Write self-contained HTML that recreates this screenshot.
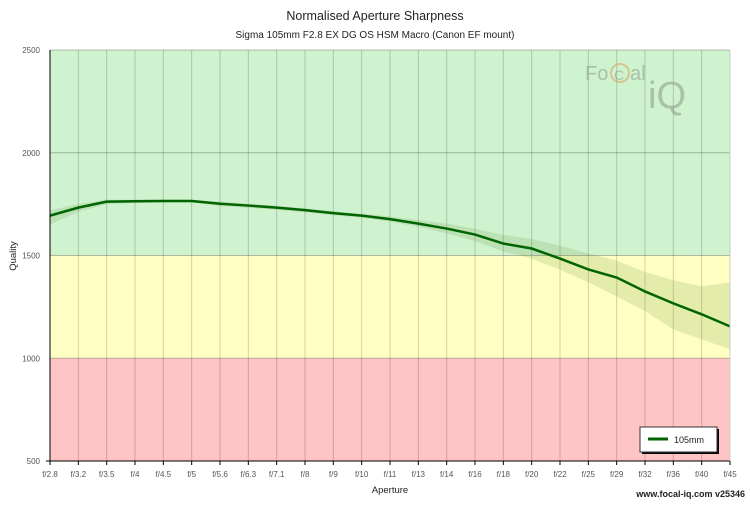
<!DOCTYPE html>
<html><head><meta charset="utf-8"><style>
body{margin:0;background:#fff;font-family:"Liberation Sans",sans-serif}
svg text{font-family:"Liberation Sans",sans-serif}
</style></head><body>
<svg id="c" width="750" height="500">
<text x="375" y="20" font-size="12.5" text-anchor="middle" fill="#222">Normalised Aperture Sharpness</text>
<text x="375" y="38" font-size="10" text-anchor="middle" fill="#222">Sigma 105mm F2.8 EX DG OS HSM Macro (Canon EF mount)</text>
<g id="bg"></g><g id="grid"></g><g id="marks"></g><g id="axes"></g>
<g opacity="0.55">
<text x="585" y="80" font-size="20" fill="#8a9a8a">Fo</text>
<circle cx="620" cy="73" r="9" fill="none" stroke="#d9a35a" stroke-width="2"/>
<text x="614" y="80" font-size="14" fill="#8a9a8a">C</text>
<text x="630" y="80" font-size="20" fill="#8a9a8a">al</text>
<text x="648" y="108" font-size="38" fill="#8a9a8a">iQ</text>
</g>
<text x="390" y="493" font-size="9.5" text-anchor="middle" fill="#222">Aperture</text>
<text x="16" y="256" font-size="9.5" text-anchor="middle" fill="#222" transform="rotate(-90 16 256)">Quality</text>
<text x="745" y="497" font-size="9" text-anchor="end" fill="#222" font-weight="bold">www.focal-iq.com  v25346</text>
<g>
<rect x="642" y="429" width="77" height="25" fill="#000"/>
<rect x="640" y="427" width="77" height="25" fill="#fff" stroke="#333"/>
<line x1="648" y1="439" x2="668" y2="439" stroke="#006400" stroke-width="3"/>
<text x="674" y="443" font-size="9" fill="#222">105mm</text>
</g>
</svg>
<script>
const categories=["f/2.8","f/3.2","f/3.5","f/4","f/4.5","f/5","f/5.6","f/6.3","f/7.1","f/8","f/9","f/10","f/11","f/13","f/14","f/16","f/18","f/20","f/22","f/25","f/29","f/32","f/36","f/40","f/45"];
const values=[1694,1733,1762,1764,1765,1765,1752,1743,1733,1721,1706,1694,1677,1655,1631,1602,1558,1534,1485,1432,1393,1325,1267,1214,1155];
const upper=[1720,1750,1772,1772,1772,1772,1762,1752,1742,1730,1716,1704,1690,1672,1655,1630,1600,1580,1548,1510,1475,1420,1380,1350,1369];
const lower=[1650,1712,1750,1755,1758,1758,1740,1732,1722,1710,1696,1684,1665,1640,1608,1570,1520,1485,1430,1370,1300,1230,1140,1092,1044];
const yTicks=[500,1000,1500,2000,2500];
const NS="http://www.w3.org/2000/svg";
const X0=50,X1=730,Y0=461,Y1=50;
const x=i=>X0+(X1-X0)*i/(categories.length-1);
const y=v=>Y0-(v-500)/2000*(Y0-Y1);
function mk(p,t,a){const e=document.createElementNS(NS,t);for(const k in a)e.setAttribute(k,a[k]);document.getElementById(p).appendChild(e);return e;}
let e;
e=mk('bg','rect',{x:X0,y:y(2500),width:X1-X0,height:y(1500)-y(2500),fill:'#cff2cf'});


e=mk('bg','rect',{x:X0,y:y(1500),width:X1-X0,height:y(1000)-y(1500),fill:'#ffffc4'});


e=mk('bg','rect',{x:X0,y:y(1000),width:X1-X0,height:y(500)-y(1000),fill:'#ffc4c4'});


categories.forEach((c,i)=>{
 e=mk('grid','line',{x1:x(i),x2:x(i),y1:Y1,y2:Y0,stroke:'#000','stroke-opacity':0.18});
 
 
 e=mk('axes','line',{x1:x(i),x2:x(i),y1:Y0,y2:Y0+4,stroke:'#000'});
 
 
 e=mk('axes','text',{x:x(i),y:Y0+16,'font-size':8,'text-anchor':'middle',fill:'#555'});
 e.textContent=c;
 
 
});
yTicks.forEach(v=>{
 e=mk('grid','line',{x1:X0,x2:X1,y1:y(v),y2:y(v),stroke:'#000','stroke-opacity':0.25});
 
 
 e=mk('axes','text',{x:X0-10,y:y(v)+3,'font-size':8,'text-anchor':'end',fill:'#555'});
 e.textContent=v;
 
 
});
let band=upper.map((v,i)=>x(i)+','+y(v)).join(' ')+' '+lower.map((v,i)=>x(i)+','+y(v)).reverse().join(' ');
e=mk('marks','polygon',{points:band,fill:'#5a8a2a','fill-opacity':0.16});


e=mk('marks','polyline',{points:values.map((v,i)=>x(i)+','+y(v)).join(' '),fill:'none',stroke:'#006400','stroke-width':2.5});


e=mk('axes','line',{x1:X0,x2:X0,y1:Y1,y2:Y0,stroke:'#000'});


e=mk('axes','line',{x1:X0-4,x2:X1,y1:Y0,y2:Y0,stroke:'#000'});


e=mk('axes','line',{x1:X1,x2:X1,y1:Y1,y2:Y0,stroke:'#ccc'});


</script>
</body></html>
